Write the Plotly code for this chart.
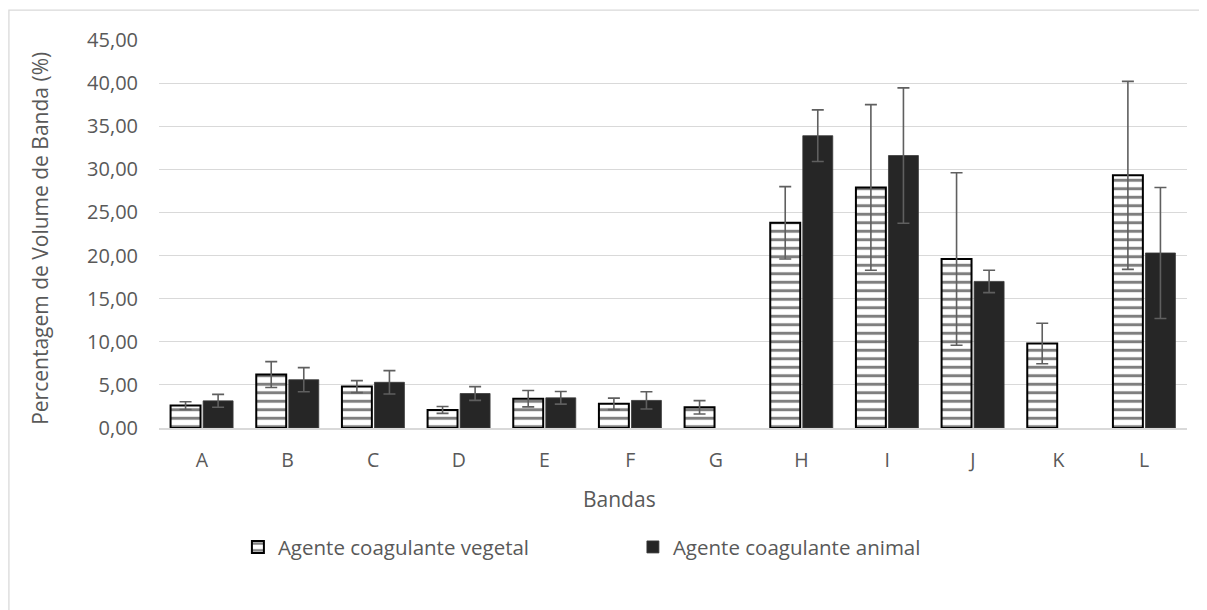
import plotly.graph_objects as go

# Bandas (categorias do eixo x)
bandas = ['A', 'B', 'C', 'D', 'E', 'F', 'G', 'H', 'I', 'J', 'K', 'L']

# Percentagem de volume de banda (%) - valores médios
vegetal = [2.60, 6.20, 4.80, 2.10, 3.40, 2.80, 2.40, 23.80, 27.90, 19.60, 9.80, 29.30]
animal = [3.15, 5.60, 5.30, 4.00, 3.50, 3.20, None, 33.90, 31.60, 17.00, None, 20.30]

# Desvio padrão (barras de erro)
vegetal_err = [0.45, 1.50, 0.70, 0.40, 0.95, 0.67, 0.78, 4.20, 9.60, 10.00, 2.35, 10.90]
animal_err = [0.75, 1.40, 1.35, 0.80, 0.73, 1.00, None, 3.00, 7.85, 1.30, None, 7.60]

y_ticks = [0, 5, 10, 15, 20, 25, 30, 35, 40, 45]

text_color = '#595959'
grid_color = '#d9d9d9'
font_family = 'Open Sans'

fig = go.Figure()

fig.add_trace(go.Bar(
    name='Agente coagulante vegetal',
    x=bandas,
    y=vegetal,
    marker=dict(
        color='white',
        line=dict(color='black', width=2),
        pattern=dict(shape='-', fgcolor='black', bgcolor='white', size=8.5, solidity=0.35),
    ),
    error_y=dict(type='data', array=vegetal_err, color='#5f5f5f', thickness=1.6, width=6),
))

fig.add_trace(go.Bar(
    name='Agente coagulante animal',
    x=bandas,
    y=animal,
    marker=dict(color='#262626', line=dict(color='#3a3a3a', width=0.8)),
    error_y=dict(type='data', array=animal_err, color='#5f5f5f', thickness=1.6, width=6),
))

# a página desloca a figura 8px (margem do body), por isso a figura é um pouco menor
fig.update_layout(
    width=1199,
    height=602,
    margin=dict(l=151, r=20, t=32, b=181.5),
    paper_bgcolor='white',
    plot_bgcolor='white',
    barmode='group',
    bargap=0.24,
    bargroupgap=0.08,
    separators=',.',
    font=dict(family=font_family, color=text_color, size=19),
    xaxis=dict(
        showgrid=False,
        showline=True,
        linecolor=grid_color,
        linewidth=1.5,
        tickfont=dict(size=19.5, color=text_color),
        ticklabelstandoff=14,
    ),
    yaxis=dict(
        range=[0, 45],
        tickvals=y_ticks,
        tickformat='.2f',
        showgrid=True,
        gridcolor=grid_color,
        gridwidth=1,
        zeroline=False,
        showline=False,
        tickfont=dict(size=20, color=text_color),
        ticklabelstandoff=20,
    ),
    legend=dict(
        orientation='h',
        x=0.461,
        xanchor='center',
        y=-0.307,
        yanchor='middle',
        font=dict(size=20.5, color=text_color),
        itemwidth=30,
        entrywidth=350,
        entrywidthmode='pixels',
    ),
    showlegend=True,
)

# titulos dos eixos
fig.add_annotation(
    text='Bandas', xref='paper', yref='paper', x=0.448, y=-0.184,
    xanchor='center', yanchor='middle',
    showarrow=False, font=dict(size=21, color=text_color),
)
fig.add_annotation(
    text='Percentagem de Volume de Banda (%)', xref='paper', yref='paper',
    x=-0.1158, y=0.49, xanchor='center', yanchor='middle', textangle=-90,
    showarrow=False, font=dict(size=21, color=text_color),
)

# borda da área do gráfico
fig.add_shape(
    type='rect', xref='paper', yref='paper',
    x0=-0.146, x1=1.03, y0=-0.5, y1=1.0772,
    line=dict(color=grid_color, width=1.3), layer='below',
)

fig.write_html('out.html')
